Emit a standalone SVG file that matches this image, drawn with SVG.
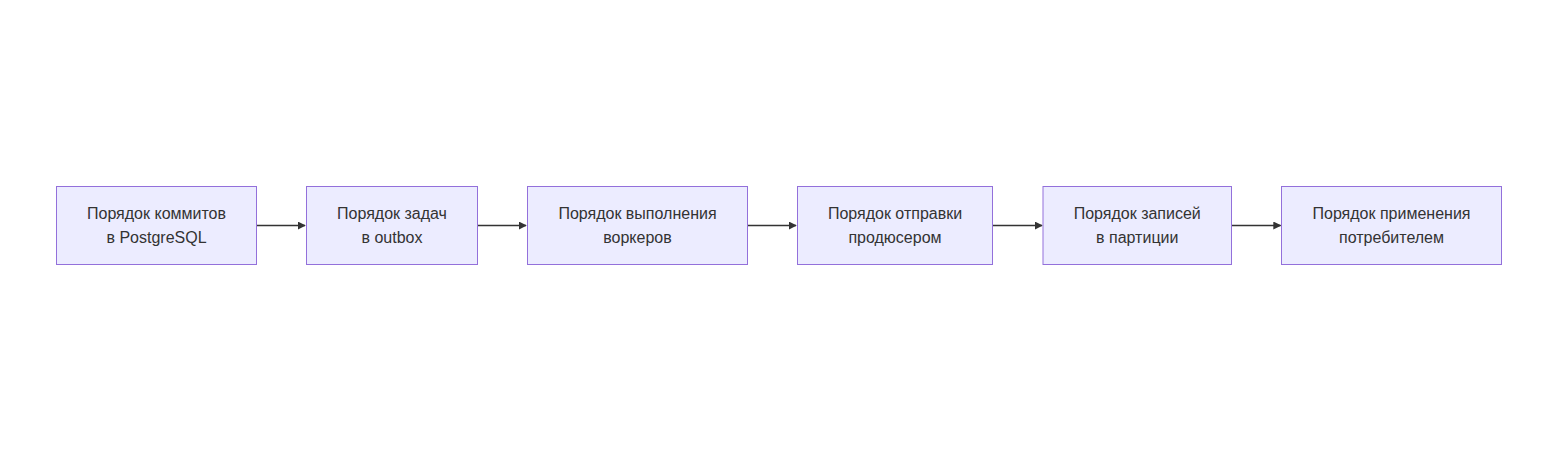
<svg xmlns="http://www.w3.org/2000/svg" width="1560" height="461" viewBox="0 0 1560 461">
<style>
.node rect{fill:#ECECFF;stroke:#9370DB;stroke-width:1px}
.node text{font-family:"Liberation Sans",Arial,sans-serif;font-size:16px;fill:#333;text-anchor:middle}
.edge{stroke:#333;stroke-width:1.5px;fill:none}
</style>
<defs>
<marker id="arrow" viewBox="0 0 10 10" refX="9" refY="5" markerWidth="8" markerHeight="8" markerUnits="userSpaceOnUse" orient="auto">
<path d="M0,0 L10,5 L0,10 z" fill="#333"/>
</marker>
</defs>
<rect width="1560" height="461" fill="#ffffff"/>
<g id="edges">
<path class="edge" d="M257,225.5 H305" marker-end="url(#arrow)"/>
<path class="edge" d="M478,225.5 H526" marker-end="url(#arrow)"/>
<path class="edge" d="M747.5,225.5 H796" marker-end="url(#arrow)"/>
<path class="edge" d="M993,225.5 H1042" marker-end="url(#arrow)"/>
<path class="edge" d="M1231.5,225.5 H1280.5" marker-end="url(#arrow)"/>
</g>
<g id="n1" class="node"><rect x="56.5" y="186.5" width="200" height="78"/><text x="156.5" y="219">Порядок коммитов</text><text x="156.5" y="243">в PostgreSQL</text></g>
<g id="n2" class="node"><rect x="306.5" y="186.5" width="171" height="78"/><text x="392" y="219">Порядок задач</text><text x="392" y="243">в outbox</text></g>
<g id="n3" class="node"><rect x="527.5" y="186.5" width="220" height="78"/><text x="637.5" y="219">Порядок выполнения</text><text x="637.5" y="243">воркеров</text></g>
<g id="n4" class="node"><rect x="797.5" y="186.5" width="195" height="78"/><text x="895" y="219">Порядок отправки</text><text x="895" y="243">продюсером</text></g>
<g id="n5" class="node"><rect x="1043" y="186.5" width="188.5" height="78"/><text x="1137.25" y="219">Порядок записей</text><text x="1137.25" y="243">в партиции</text></g>
<g id="n6" class="node"><rect x="1281.5" y="186.5" width="220" height="78"/><text x="1391.5" y="219">Порядок применения</text><text x="1391.5" y="243">потребителем</text></g>
</svg>
